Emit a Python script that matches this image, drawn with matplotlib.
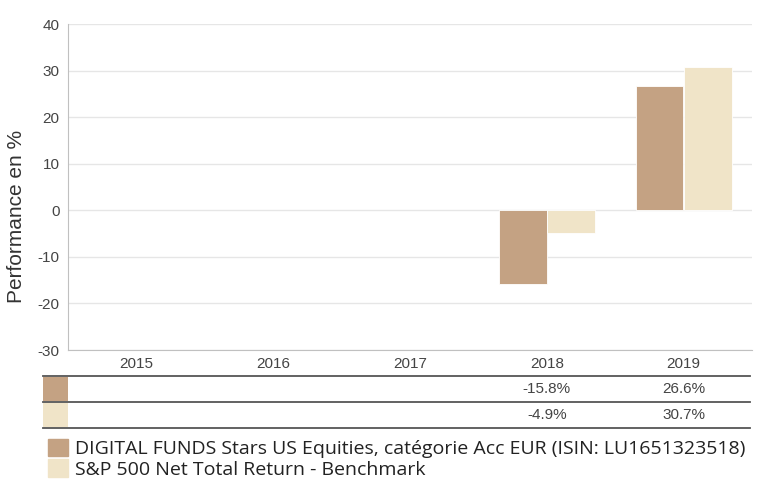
import numpy as np
import matplotlib
matplotlib.use("Agg")
import matplotlib.pyplot as plt
from matplotlib.patches import Rectangle
from matplotlib.lines import Line2D
from matplotlib.transforms import blended_transform_factory

years = ["2015", "2016", "2017", "2018", "2019"]
fund = [np.nan, np.nan, np.nan, -15.8, 26.6]
bench = [np.nan, np.nan, np.nan, -4.9, 30.7]
fund_label = "DIGITAL FUNDS Stars US Equities, catégorie Acc EUR (ISIN: LU1651323518)"
bench_label = "S&P 500 Net Total Return - Benchmark"

fund_color = "#C4A283"
bench_color = "#F0E4C8"

plt.rcParams['font.family'] = ['Liberation Sans', 'DejaVu Sans']
plt.rcParams['axes.unicode_minus'] = False

W, H = 758, 484
fig = plt.figure(figsize=(W / 100, H / 100), dpi=100)

def fx(px):
    return px / W

def fy(py):
    return 1 - py / H

ax = fig.add_axes([fx(68), fy(350), fx(752) - fx(68), fy(24) - fy(350)])
x = np.arange(len(years))
w = 0.35
ax.bar(x - 0.176, fund, w, color=fund_color, edgecolor="white", linewidth=0.6, zorder=3)
ax.bar(x + 0.176, bench, w, color=bench_color, edgecolor="white", linewidth=0.6, zorder=3)

ax.set_xlim(-0.5, len(years) - 0.5)
ax.set_ylim(-30, 40)
ax.set_yticks(range(-30, 41, 10))
ax.yaxis.grid(True, color="#E6E6E6", linewidth=1)
ax.set_axisbelow(True)
for s in ["top", "right"]:
    ax.spines[s].set_visible(False)
ax.spines["left"].set_color("#C0C0C0")
ax.spines["bottom"].set_color("#C0C0C0")
ax.tick_params(axis="y", length=0, labelsize=11, colors="#444444", pad=6)
ax.tick_params(axis="x", length=0, labelsize=11, colors="#444444", pad=5)
ax.set_xticks(x)
ax.set_xticklabels(years)
ax.set_ylabel("Performance en %", fontsize=15, color="#333333")
ax.yaxis.set_label_coords(-0.062, 0.41)

# table under the chart
tr = blended_transform_factory(ax.transData, fig.transFigure)
for py in [376, 402, 428]:
    fig.add_artist(Line2D([fx(43), fx(750)], [fy(py), fy(py)], color="#555555", linewidth=1.3))
fig.add_artist(Rectangle((fx(43), fy(401)), fx(68) - fx(43), fy(377) - fy(401),
                         transform=fig.transFigure, color=fund_color, linewidth=0))
fig.add_artist(Rectangle((fx(43), fy(427)), fx(68) - fx(43), fy(403) - fy(427),
                         transform=fig.transFigure, color=bench_color, linewidth=0))
for i in range(len(years)):
    if not np.isnan(fund[i]):
        fig.text(x[i], fy(389), f"{fund[i]:.1f}%", transform=tr, ha="center", va="center",
                 fontsize=11, color="#444444")
    if not np.isnan(bench[i]):
        fig.text(x[i], fy(415), f"{bench[i]:.1f}%", transform=tr, ha="center", va="center",
                 fontsize=11, color="#444444")

handles = [Rectangle((0, 0), 1, 1, color=fund_color), Rectangle((0, 0), 1, 1, color=bench_color)]
fig.legend(handles, [fund_label, bench_label], loc="upper left", bbox_to_anchor=(fx(34), fy(425)),
           frameon=False, handlelength=1.03, handleheight=1.03, handletextpad=0.36,
           labelspacing=0.05, borderpad=0.2, labelcolor="#222222",
           prop={"family": ["Open Sans", "DejaVu Sans"], "size": 14})

fig.savefig("out.png", dpi=100)
